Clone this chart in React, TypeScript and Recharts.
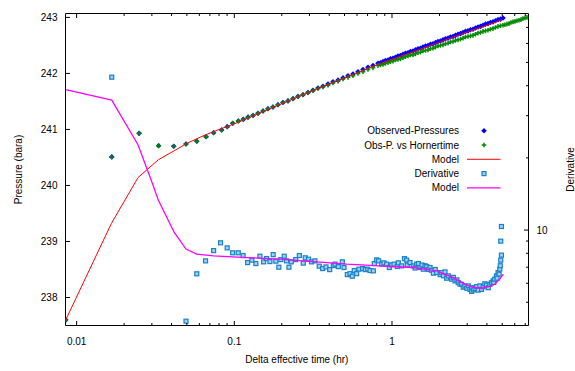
import React from "react";
import { ComposedChart, Line, Scatter, XAxis, YAxis } from "recharts";

// [delta effective time (hr), pressure (bara)]
const observed: [number, number][] = [
  [0.00853, 237.6], [0.0167, 240.51], [0.0249, 240.93], [0.0331, 240.71], [0.0413, 240.7],
  [0.0494, 240.74], [0.0578, 240.79], [0.0662, 240.87], [0.0739, 240.94], [0.0831, 240.99],
  [0.0902, 241.05], [0.0977, 241.11], [0.106, 241.15], [0.114, 241.18], [0.1222, 241.22],
  [0.1314, 241.25], [0.1414, 241.29], [0.1521, 241.33], [0.1635, 241.37], [0.1759, 241.4],
  [0.1892, 241.44], [0.2035, 241.48], [0.219, 241.51], [0.2356, 241.55], [0.2533, 241.59],
  [0.2725, 241.62], [0.2933, 241.66], [0.3155, 241.7], [0.3395, 241.74], [0.3651, 241.77],
  [0.3928, 241.81], [0.4225, 241.85], [0.4546, 241.88], [0.489, 241.92], [0.526, 241.96],
  [0.5658, 241.99], [0.6087, 242.03], [0.6548, 242.07], [0.7044, 242.11], [0.7578, 242.14],
  [0.8151, 242.18], [0.8455, 242.19], [0.8769, 242.21], [0.9094, 242.23], [0.9433, 242.24],
  [0.9783, 242.26], [1.015, 242.27], [1.052, 242.29], [1.091, 242.31], [1.132, 242.32],
  [1.174, 242.34], [1.218, 242.36], [1.263, 242.37], [1.31, 242.39], [1.359, 242.4],
  [1.409, 242.42], [1.462, 242.44], [1.516, 242.45], [1.573, 242.47], [1.631, 242.49],
  [1.692, 242.5], [1.754, 242.52], [1.82, 242.53], [1.887, 242.55], [1.958, 242.57],
  [2.03, 242.58], [2.106, 242.6], [2.184, 242.62], [2.266, 242.63], [2.35, 242.65],
  [2.437, 242.66], [2.527, 242.68], [2.622, 242.7], [2.719, 242.71], [2.82, 242.73],
  [2.925, 242.75], [3.034, 242.76], [3.147, 242.78], [3.264, 242.79], [3.385, 242.81],
  [3.511, 242.83], [3.641, 242.84], [3.776, 242.86], [3.917, 242.88], [4.062, 242.89],
  [4.214, 242.91], [4.37, 242.92], [4.533, 242.94], [4.701, 242.96], [4.875, 242.97],
  [5.057, 242.99],
];

// the same pressures against Horner equivalent time
const horner: [number, number][] = [
  [0.00853, 237.6], [0.0167, 240.51], [0.0249, 240.93], [0.0331, 240.71], [0.0413, 240.7],
  [0.0494, 240.74], [0.0578, 240.79], [0.0662, 240.87], [0.0739, 240.94], [0.0831, 240.99],
  [0.0902, 241.05], [0.0977, 241.11], [0.106, 241.15], [0.114, 241.18], [0.1222, 241.22],
  [0.1314, 241.25], [0.1414, 241.29], [0.1521, 241.33], [0.1635, 241.37], [0.1759, 241.4],
  [0.1892, 241.44], [0.2035, 241.48], [0.219, 241.51], [0.2356, 241.55], [0.2533, 241.59],
  [0.2725, 241.62], [0.2933, 241.66], [0.3155, 241.69], [0.3395, 241.73], [0.3651, 241.76],
  [0.3928, 241.79], [0.4225, 241.83], [0.4546, 241.86], [0.489, 241.9], [0.526, 241.93],
  [0.5658, 241.96], [0.6087, 242.0], [0.6548, 242.03], [0.7044, 242.07], [0.7578, 242.1],
  [0.8151, 242.14], [0.8455, 242.15], [0.8769, 242.16], [0.9094, 242.18], [0.9433, 242.19],
  [0.9783, 242.21], [1.015, 242.22], [1.052, 242.24], [1.091, 242.25], [1.132, 242.26],
  [1.174, 242.28], [1.218, 242.3], [1.263, 242.31], [1.31, 242.33], [1.359, 242.33],
  [1.409, 242.35], [1.462, 242.37], [1.516, 242.38], [1.573, 242.4], [1.631, 242.41],
  [1.692, 242.42], [1.754, 242.44], [1.82, 242.45], [1.887, 242.47], [1.958, 242.49],
  [2.03, 242.5], [2.106, 242.51], [2.184, 242.53], [2.266, 242.54], [2.35, 242.56],
  [2.437, 242.57], [2.527, 242.59], [2.622, 242.6], [2.719, 242.61], [2.82, 242.63],
  [2.925, 242.65], [3.034, 242.66], [3.147, 242.67], [3.264, 242.68], [3.385, 242.7],
  [3.511, 242.72], [3.641, 242.73], [3.776, 242.75], [3.917, 242.76], [4.062, 242.77],
  [4.214, 242.79], [4.37, 242.8], [4.533, 242.82], [4.701, 242.84], [4.875, 242.85],
  [5.057, 242.86], [5.204, 242.87], [5.36, 242.88], [5.52, 242.89], [5.684, 242.91],
  [5.853, 242.92], [6.026, 242.93], [6.204, 242.94], [6.388, 242.95], [6.577, 242.96],
  [6.771, 242.98], [6.971, 242.99], [7.179, 243.0],
];

const pressureModel: [number, number][] = [
  [0.00853, 237.6], [0.0166, 239.32], [0.0245, 240.14], [0.033, 240.46], [0.0422, 240.63],
  [0.0499, 240.75], [0.0606, 240.86], [0.0666, 240.91], [0.08, 241.0], [0.1, 241.1],
  [0.15, 241.31], [0.2, 241.46], [0.3, 241.67], [0.5, 241.92], [0.7, 242.09],
  [1, 242.25], [1.5, 242.43], [2, 242.56], [3, 242.74], [4, 242.86], [5, 242.96],
];

// [time, pressure derivative]
const derivative: [number, number][] = [
  [0.0167, 43.4], [0.0494, 4.17], [0.0578, 6.57], [0.0657, 7.44], [0.0739, 8.21],
  [0.0818, 8.85], [0.0901, 8.43], [0.0976, 8.04], [0.1059, 8.04], [0.1137, 7.83],
  [0.1214, 7.32], [0.1293, 7.49], [0.137, 7.25], [0.1453, 7.78], [0.1534, 7.37],
  [0.1602, 7.61], [0.1682, 7.39], [0.1764, 7.9], [0.1834, 7.42], [0.1916, 7.0],
  [0.1974, 7.53], [0.2072, 7.78], [0.2146, 7.44], [0.2221, 7.0], [0.2297, 7.37],
  [0.2451, 7.53], [0.2584, 7.83], [0.2737, 7.28], [0.2817, 7.66], [0.2959, 7.56],
  [0.3091, 7.37], [0.3244, 7.44], [0.3456, 7.07], [0.3633, 6.91], [0.3815, 7.02],
  [0.4027, 6.84], [0.4245, 7.11], [0.4352, 7.21], [0.4567, 7.04], [0.4841, 7.37],
  [0.4962, 6.98], [0.5206, 6.52], [0.5414, 6.58], [0.5598, 6.42], [0.5763, 6.78],
  [0.5967, 6.58], [0.6171, 6.87], [0.6518, 6.91], [0.6771, 6.84], [0.7014, 6.87],
  [0.7254, 6.78], [0.7614, 6.76], [0.7726, 7.25], [0.8, 7.51], [0.8235, 7.44],
  [0.8603, 7.21], [0.8897, 7.3], [0.9255, 7.21], [0.9614, 6.98], [0.9956, 7.16],
  [1.03, 7.21], [1.08, 7.05], [1.096, 7.3], [1.152, 7.09], [1.2, 7.6], [1.239, 7.49],
  [1.25, 7.15], [1.301, 7.32], [1.365, 7.09], [1.4, 6.95], [1.434, 7.21], [1.47, 7.25],
  [1.505, 6.98], [1.55, 7.15], [1.58, 6.87], [1.62, 7.1], [1.66, 7.04], [1.7, 6.85],
  [1.742, 6.98], [1.78, 6.8], [1.829, 6.61], [1.88, 6.85], [1.921, 6.65], [2.02, 6.52],
  [2.066, 6.65], [2.12, 6.45], [2.169, 6.69], [2.22, 6.3], [2.276, 6.44], [2.39, 6.24],
  [2.45, 6.35], [2.51, 6.14], [2.58, 6.2], [2.632, 6.04], [2.7, 5.95], [2.764, 5.94],
  [2.83, 5.78], [2.902, 5.85], [2.98, 5.72], [3.046, 5.85], [3.12, 5.66], [3.199, 5.75],
  [3.2, 5.55], [3.277, 5.63], [3.36, 5.7], [3.441, 5.81], [3.52, 5.62], [3.611, 5.85],
  [3.7, 5.66], [3.788, 5.81], [3.88, 5.97], [3.975, 5.89], [4.08, 5.75], [4.171, 5.94],
  [4.27, 6.03], [4.376, 6.14], [4.42, 6.05], [4.483, 6.24], [4.596, 6.44], [4.64, 6.3],
  [4.707, 6.65], [4.78, 6.55], [4.824, 6.87], [4.86, 7.1], [4.894, 7.49], [4.943, 7.86],
  [4.894, 8.99], [4.943, 10.35],
];

const derivativeModel: [number, number][] = [
  [0.00853, 38.5], [0.0167, 34.8], [0.0245, 22.7], [0.0303, 15.6], [0.033, 13.3],
  [0.0416, 9.77], [0.0494, 8.33], [0.0578, 7.94], [0.0739, 7.81], [0.12, 7.68],
  [0.195, 7.56], [0.317, 7.39], [0.516, 7.21], [0.839, 7.09], [1.365, 6.98],
  [1.921, 6.76], [2.449, 6.33], [2.902, 5.94], [3.199, 5.79], [3.611, 5.72],
  [4.062, 5.79], [4.483, 5.94], [4.824, 6.24], [5.08, 6.55],
];

const xMajor = [0.01, 0.1, 1];
const xTicks = [
  0.01, 0.02, 0.03, 0.04, 0.05, 0.06, 0.07, 0.08, 0.09,
  0.1, 0.2, 0.3, 0.4, 0.5, 0.6, 0.7, 0.8, 0.9,
  1, 2, 3, 4, 5, 6, 7,
];
const pressureTicks = [238, 239, 240, 241, 242, 243];
const derivTicks = [5, 6, 7, 8, 9, 10, 20, 30, 40, 50, 60, 70];

const rows = (pts: [number, number][]) => pts.map(([t, v]) => ({ t, v }));

const BLUE = "#0000ff";
const GREEN = "#008a00";
const RED = "#ff0000";
const MAGENTA = "#ff00ff";
const DERIV = "#1a80c8";

const BottomTick = ({ x, y, payload }: any) => {
  const major = xMajor.includes(payload.value);
  return (
    <g>
      <line x1={x} x2={x} y1={y} y2={y - (major ? 4.5 : 2.5)} stroke="#000" />
      {major && (
        <text x={x} y={y + 19} textAnchor="middle" fontSize={10} fill="#000">
          {String(payload.value)}
        </text>
      )}
    </g>
  );
};

const TopTick = ({ x, y, payload }: any) => {
  const major = xMajor.includes(payload.value);
  return <line x1={x} x2={x} y1={y} y2={y + (major ? 4.5 : 2.5)} stroke="#000" />;
};

const LeftTick = ({ x, y, payload }: any) => (
  <g>
    <line x1={x} x2={x + 4.5} y1={y} y2={y} stroke="#000" />
    <text x={x - 8} y={y + 3.5} textAnchor="end" fontSize={10} fill="#000">
      {payload.value}
    </text>
  </g>
);

const RightTick = ({ x, y, payload }: any) => {
  const major = payload.value === 10;
  return (
    <g>
      <line x1={x} x2={x - (major ? 4.5 : 2.5)} y1={y} y2={y} stroke="#000" />
      {major && (
        <text x={x + 8} y={y + 3.5} textAnchor="start" fontSize={10} fill="#000">
          10
        </text>
      )}
    </g>
  );
};

const Diamond = ({ cx, cy }: any) => (
  <polygon
    points={`${cx},${cy - 2.8} ${cx + 2.8},${cy} ${cx},${cy + 2.8} ${cx - 2.8},${cy}`}
    fill={BLUE}
  />
);

const Plus = ({ cx, cy }: any) => (
  <path d={`M${cx - 2.3} ${cy}H${cx + 2.3}M${cx} ${cy - 2.3}V${cy + 2.3}`} stroke={GREEN} strokeWidth={1.5} />
);

const Square = ({ cx, cy }: any) => (
  <rect x={cx - 2} y={cy - 2} width={4} height={4} fill="#9fd2f0" stroke={DERIV} strokeWidth={1.2} />
);

const legendRows = [
  { label: "Observed-Pressures", kind: "diamond" },
  { label: "Obs-P. vs Hornertime", kind: "plus" },
  { label: "Model", kind: "red" },
  { label: "Derivative", kind: "square" },
  { label: "Model", kind: "magenta" },
];

// legend and axis titles drawn over the chart
function Overlay() {
  return (
    <svg width={575} height={371} style={{ position: "absolute", left: 0, top: 0, pointerEvents: "none" }}>
      {legendRows.map((r, i) => {
        const cy = 130.7 + i * 14.3;
        return (
          <g key={i}>
            <text x={459} y={cy + 3.5} textAnchor="end" fontSize={10} fill="#000">
              {r.label}
            </text>
            {r.kind === "diamond" && <Diamond cx={484} cy={cy} />}
            {r.kind === "plus" && <Plus cx={484} cy={cy} />}
            {r.kind === "square" && <Square cx={484} cy={cy} />}
            {r.kind === "red" && <line x1={467} x2={500.5} y1={cy} y2={cy} stroke={RED} />}
            {r.kind === "magenta" && <line x1={467} x2={500.5} y1={cy} y2={cy} stroke={MAGENTA} strokeWidth={1.3} />}
          </g>
        );
      })}
      <text x={296.8} y={363} textAnchor="middle" fontSize={10} fill="#000">
        Delta effective time (hr)
      </text>
      <text x={21.5} y={169.5} transform="rotate(-90 21.5 169.5)" textAnchor="middle" fontSize={10} fill="#000">
        Pressure (bara)
      </text>
      <text x={573.5} y={169.5} transform="rotate(-90 573.5 169.5)" textAnchor="middle" fontSize={10} fill="#000">
        Derivative
      </text>
    </svg>
  );
}

export default function App() {
  return (
    <div
      style={{
        position: "absolute",
        left: 0,
        top: 0,
        width: 575,
        height: 371,
        background: "#fff",
        fontFamily: "'Liberation Sans', Arial, sans-serif",
      }}
    >
      <ComposedChart width={575} height={371} margin={{ top: 0, right: 0, bottom: 0, left: 0 }}>
        <XAxis
          xAxisId="b"
          dataKey="t"
          type="number"
          scale="log"
          domain={[0.0085, 7.34]}
          allowDataOverflow
          ticks={xTicks}
          interval={0}
          tick={<BottomTick />}
          tickLine={false}
          tickSize={0}
          tickMargin={0}
          height={45.5}
          axisLine={{ stroke: "#000" }}
        />
        <XAxis
          xAxisId="t"
          orientation="top"
          dataKey="t"
          type="number"
          scale="log"
          domain={[0.0085, 7.34]}
          allowDataOverflow
          ticks={xTicks}
          interval={0}
          tick={<TopTick />}
          tickLine={false}
          tickSize={0}
          tickMargin={0}
          height={13.5}
          axisLine={{ stroke: "#000" }}
        />
        <YAxis
          yAxisId="p"
          dataKey="v"
          type="number"
          domain={[237.5, 243.07]}
          allowDataOverflow
          ticks={pressureTicks}
          interval={0}
          tick={<LeftTick />}
          tickLine={false}
          tickSize={0}
          tickMargin={0}
          width={65.5}
          axisLine={{ stroke: "#000" }}
        />
        <YAxis
          yAxisId="d"
          orientation="right"
          dataKey="v"
          type="number"
          scale="log"
          domain={[4, 80]}
          allowDataOverflow
          ticks={derivTicks}
          interval={0}
          tick={<RightTick />}
          tickLine={false}
          tickSize={0}
          tickMargin={0}
          width={46.5}
          axisLine={{ stroke: "#000" }}
        />
        <Scatter
          name="Observed-Pressures"
          data={rows(observed)}
          xAxisId="b"
          yAxisId="p"
          dataKey="v"
          shape={Diamond}
          zIndex={600}
          isAnimationActive={false}
        />
        <Scatter
          name="Obs-P. vs Hornertime"
          data={rows(horner)}
          xAxisId="b"
          yAxisId="p"
          dataKey="v"
          shape={Plus}
          zIndex={610}
          isAnimationActive={false}
        />
        <Line
          name="Model"
          data={rows(pressureModel)}
          xAxisId="b"
          yAxisId="p"
          dataKey="v"
          type="linear"
          stroke={RED}
          strokeWidth={1}
          dot={false}
          zIndex={620}
          isAnimationActive={false}
        />
        <Scatter
          name="Derivative"
          data={rows(derivative)}
          xAxisId="b"
          yAxisId="d"
          dataKey="v"
          shape={Square}
          zIndex={630}
          isAnimationActive={false}
        />
        <Line
          name="Model"
          data={rows(derivativeModel)}
          xAxisId="b"
          yAxisId="d"
          dataKey="v"
          type="linear"
          stroke={MAGENTA}
          strokeWidth={1.3}
          dot={false}
          zIndex={640}
          isAnimationActive={false}
        />
      </ComposedChart>
      <Overlay />
    </div>
  );
}
